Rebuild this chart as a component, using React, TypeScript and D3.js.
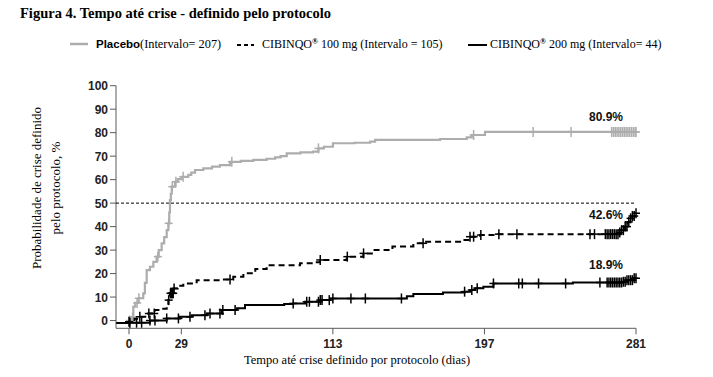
import React from "react";
import * as d3 from "d3";

// ---- Data ----
const xTicks = [0, 29, 113, 197, 281];
const yTicks = [0, 10, 20, 30, 40, 50, 60, 70, 80, 90, 100];

const placeboDays = [0, 1, 2.4, 3.5, 5.2, 7.9, 8.8, 9.8, 11.6, 13.5, 15.3, 16.5, 18.1, 19.5, 20.9, 21.8, 22.3, 22.7, 23.2, 23.7, 25.5, 27, 29.2, 32.9, 34.5, 36.6, 41.2, 46, 50.4, 56, 62, 68.9, 76.3, 81, 84, 87.4, 95, 102, 105, 108, 113, 125, 133.6, 136.4, 172.4, 187.2, 190, 197.3, 281];
const placeboPct = [0, 1.5, 5.9, 7.5, 9.5, 11.6, 16, 21.5, 22.9, 25, 27.2, 30, 32.9, 35.5, 38.5, 41.4, 46, 51.3, 54, 57, 59.1, 60.2, 61.2, 62, 63, 64.1, 64.8, 65.5, 66.2, 67.6, 68, 68.4, 68.9, 69.5, 70, 71.2, 71.6, 71.9, 73.3, 74, 75.5, 75.7, 76.2, 76.9, 77.3, 78, 79, 80.3, 80.3];
const placeboCensor = [0.5, 2, 4.5, 5.5, 16, 22, 24, 26, 30, 57, 105, 191, 224, 245, 267.5, 268.5, 269.5, 270.5, 271.5, 272.5, 273.5, 274.5, 275.5, 276.5, 277.5, 278.5, 279.5, 280.5, 281];

const dose100Days = [-7, 0, 3, 6, 10.7, 14.4, 18, 20.9, 21.8, 22.7, 24.6, 27, 30.1, 37.5, 50.4, 57.8, 63.4, 70, 76.3, 94.8, 102, 105.9, 120.7, 129.9, 135.4, 146, 157.6, 163.1, 185.3, 189, 194.6, 204.7, 270.3, 272, 273, 275, 276.5, 277.7, 279, 280.5, 281];
const dose100Pct = [-1, -0.5, 0.8, 1.6, 3, 4.5, 5, 5.9, 8.7, 11.6, 13.7, 14.8, 15.8, 17.2, 17.5, 18.7, 20.1, 22, 23.6, 24.4, 24.8, 25.8, 27.2, 28.6, 30, 31.5, 32.9, 33.6, 34.3, 35.7, 36.4, 36.8, 36.8, 37.5, 38.5, 40, 42, 43.5, 44.5, 45.7, 45.7];
const dose100Censor = [0, 6, 11, 14, 22, 23, 23.5, 24, 24.5, 25, 56, 106, 121, 130, 163, 189, 191, 195, 205, 215, 255.5, 258, 264, 265, 266, 267, 268, 269, 270, 271, 272, 273, 274, 275, 276, 277, 278, 279, 280, 281];

const dose200Days = [-7, 0, 11.6, 20.9, 28.3, 34.8, 43.1, 51.4, 59.7, 64.3, 80, 86, 91, 97.6, 106, 111.4, 150, 154, 157.6, 174, 186, 189, 192, 196.4, 202, 244.5, 246, 274, 276, 279.5, 281];
const dose200Pct = [-1, -0.9, 0, 0.9, 1.6, 2.3, 3.0, 4.5, 5.2, 6.6, 6.6, 7, 7.3, 8, 8.7, 9.4, 9.4, 10.4, 11.3, 11.9, 12.3, 13, 13.8, 14.4, 15.8, 15.8, 16.2, 16.5, 17.2, 18, 18];
const dose200Censor = [0.5, 4.2, 7, 11.6, 14.4, 20.9, 27.4, 33.8, 42.1, 44.9, 50.4, 52, 58.8, 91, 98.5, 100, 105, 106, 107, 111, 113, 123, 131, 151, 186, 190, 193, 202, 216, 218, 227, 242, 261, 265, 266, 267, 268, 269, 270, 271, 272, 273, 274, 275, 276, 277, 278, 279, 280, 281];

const endLabels = ["80.9%", "42.6%", "18.9%"];
const endLabelValues = [80.9, 42.6, 18.9];

const SERIF = "'Liberation Serif', 'Times New Roman', serif";
const SANS = "'Liberation Sans', Arial, sans-serif";

export default function App() {
  const W = 713, H = 377;
  const x = d3.scaleLinear().domain([-7.2, 281]).range([116, 636]);
  const y = d3.scaleLinear().domain([-3.3, 100]).range([328.3, 85.7]);

  const line = d3
    .line<[number, number]>()
    .x((d) => x(d[0]))
    .y((d) => y(d[1]))
    .curve(d3.curveStepAfter);

  const zip = (a: number[], b: number[]) => a.map((v, i) => [v, b[i]] as [number, number]);
  const valAt = (days: number[], pct: number[], t: number) => {
    let v = pct[0];
    for (let i = 0; i < days.length; i++) if (days[i] <= t) v = pct[i];
    return v;
  };

  const series = [
    { days: placeboDays, pct: placeboPct, censor: placeboCensor, color: "#adadad", dash: undefined, w: 2.2 },
    { days: dose100Days, pct: dose100Pct, censor: dose100Censor, color: "#000", dash: "6,4", w: 2 },
    { days: dose200Days, pct: dose200Pct, censor: dose200Censor, color: "#000", dash: undefined, w: 2 },
  ];

  const labelOffsets = [-9.5, -1.5, -7];

  return (
    <svg width={W} height={H} style={{ position: "absolute", left: 0, top: 0, background: "#fff" }}>
      {/* Title */}
      <text x={20} y={18} fontFamily={SERIF} fontWeight="bold" fontSize={14.5}>
        Figura 4. Tempo até crise - definido pelo protocolo
      </text>

      {/* Legend */}
      <line x1={70} x2={88} y1={44} y2={44} stroke="#adadad" strokeWidth={2.5} />
      <text x={96} y={48} fontSize={12}>
        <tspan fontFamily={SANS} fontWeight="bold" fontSize={11.5}>Placebo</tspan>
        <tspan fontFamily={SERIF} fontSize={12.3}>(Intervalo= 207)</tspan>
      </text>
      <line x1={237} x2={254} y1={45} y2={45} stroke="#000" strokeWidth={2} strokeDasharray="4,3" />
      <text x={262} y={48} fontSize={12} fontFamily={SERIF}>
        CIBINQO<tspan fontSize={8} dy={-4} fontWeight="bold">®</tspan>
        <tspan dy={4}> 100 mg (Intervalo = 105)</tspan>
      </text>
      <line x1={468} x2={487} y1={45} y2={45} stroke="#000" strokeWidth={2} />
      <text x={490} y={48} fontSize={12} fontFamily={SERIF}>
        CIBINQO<tspan fontSize={8} dy={-4} fontWeight="bold">®</tspan>
        <tspan dy={4}> 200 mg (Intervalo= 44)</tspan>
      </text>

      {/* Y axis title */}
      <g transform="translate(41,188) rotate(-90)">
        <text textAnchor="middle" fontFamily={SERIF} fontSize={13}>Probabilidade de crise definido</text>
        <text textAnchor="middle" y={19} fontFamily={SERIF} fontSize={13}>pelo protocolo, %</text>
      </g>

      {/* Axes */}
      <line x1={x(-7.2)} x2={x(-7.2)} y1={y(100)} y2={y(-3.3)} stroke="#5a5a5a" strokeWidth={1} />
      <line x1={x(-7.2)} x2={x(281)} y1={y(-3.3)} y2={y(-3.3)} stroke="#5a5a5a" strokeWidth={1} />
      {yTicks.map((t) => (
        <g key={"y" + t}>
          <line x1={x(-7.2) - 6} x2={x(-7.2)} y1={y(t)} y2={y(t)} stroke="#5a5a5a" />
          <text x={x(-7.2) - 8} y={y(t) + 4.5} textAnchor="end" fontFamily={SANS} fontWeight="bold" fontSize={12} fill="#222">
            {t}
          </text>
        </g>
      ))}
      {xTicks.map((t) => (
        <g key={"x" + t}>
          <line x1={x(t)} x2={x(t)} y1={y(-3.3)} y2={y(-3.3) + 6} stroke="#5a5a5a" />
          <text x={x(t)} y={y(-3.3) + 20} textAnchor="middle" fontFamily={SANS} fontWeight="bold" fontSize={12} fill="#222">
            {t}
          </text>
        </g>
      ))}
      <text x={357} y={364} textAnchor="middle" fontFamily={SERIF} fontSize={12.5}>
        Tempo até crise definido por protocolo (dias)
      </text>

      {/* 50% reference line */}
      <line x1={x(-7.2)} x2={x(281)} y1={y(50)} y2={y(50)} stroke="#000" strokeWidth={1} strokeDasharray="3,2" />

      {/* Curves */}
      {series.map((s, i) => (
        <g key={"s" + i}>
          <path d={line(zip(s.days, s.pct)) || ""} fill="none" stroke={s.color} strokeWidth={s.w} strokeDasharray={s.dash} />
          {s.censor.map((c, j) => {
            const cx = x(c);
            const cy = y(valAt(s.days, s.pct, c));
            return (
              <g key={j} stroke={s.color} strokeWidth={1.5}>
                <line x1={cx} x2={cx} y1={cy - 5} y2={cy + 5} />
                <line x1={cx - 4} x2={cx + 4} y1={cy} y2={cy} />
              </g>
            );
          })}
        </g>
      ))}

      {/* End labels */}
      {endLabels.map((l, i) => (
        <text key={l} x={606} y={y(endLabelValues[i]) + labelOffsets[i]} textAnchor="middle" fontFamily={SANS} fontWeight="bold" fontSize={12} fill="#111">
          {l}
        </text>
      ))}
    </svg>
  );
}
